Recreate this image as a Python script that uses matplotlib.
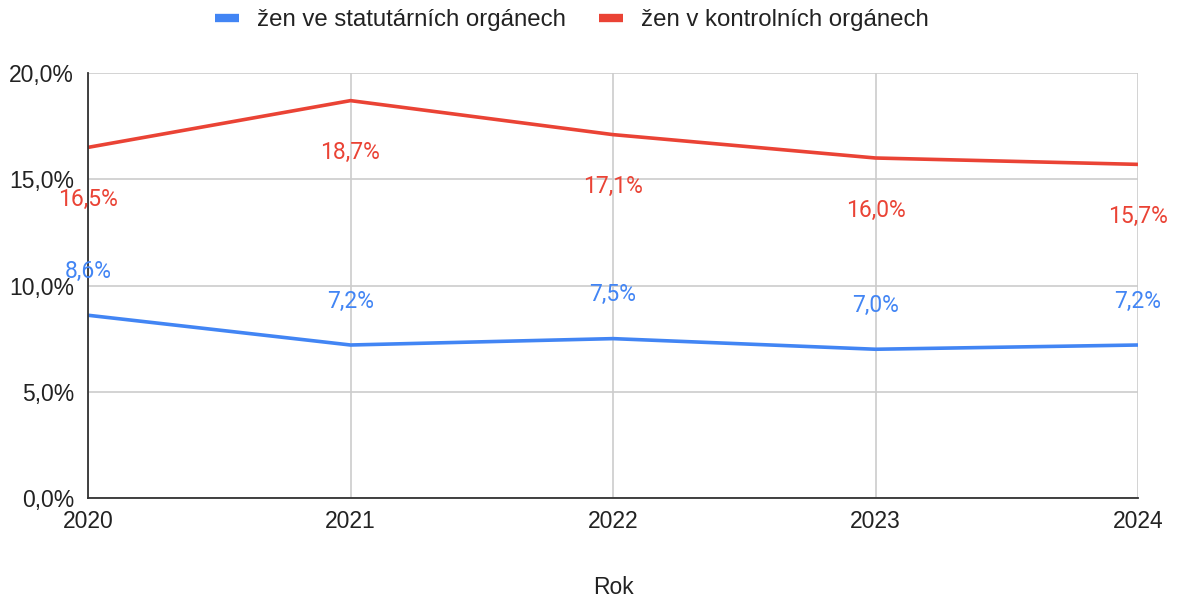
import matplotlib.pyplot as plt
from matplotlib.ticker import FuncFormatter

plt.rcParams['font.family'] = ['Liberation Sans', 'DejaVu Sans']

roky = [2020, 2021, 2022, 2023, 2024]
statutarni = [8.6, 7.2, 7.5, 7.0, 7.2]
kontrolni = [16.5, 18.7, 17.1, 16.0, 15.7]

modra = '#4285F4'
cervena = '#EA4335'

def fmt(v):
    return ('%.1f' % v).replace('.', ',') + '%'

fig = plt.figure(figsize=(11.79, 6), dpi=100)
ax = fig.add_axes([88 / 1179, 1 - 498 / 600, (1138 - 88) / 1179, (498 - 73) / 600])

ax.plot(roky, statutarni, color=modra, linewidth=2.6, label='žen ve statutárních orgánech', solid_capstyle='butt')
ax.plot(roky, kontrolni, color=cervena, linewidth=2.6, label='žen v kontrolních orgánech', solid_capstyle='butt')

# popisky hodnot
for x, v in zip(roky, statutarni):
    ax.annotate(fmt(v), (x, v), xytext=(0, 44), textcoords='offset pixels',
                ha='center', va='center', color=modra, fontsize=16.5, family='Roboto')
for x, v in zip(roky, kontrolni):
    ax.annotate(fmt(v), (x, v), xytext=(0, -52), textcoords='offset pixels',
                ha='center', va='center', color=cervena, fontsize=16.5, family='Roboto')

ax.set_xlim(2020, 2024)
ax.set_ylim(0, 20)
ax.set_xticks(roky)
ax.set_yticks([0, 5, 10, 15, 20])
ax.yaxis.set_major_formatter(FuncFormatter(lambda v, p: fmt(v)))
ax.grid(True, color='#cccccc', linewidth=1.2)
ax.set_axisbelow(True)
ax.tick_params(length=0, labelsize=16.5, labelcolor='#222222')
ax.tick_params(axis='x', pad=9)
ax.tick_params(axis='y', pad=10)
for s in ['top', 'right']:
    ax.spines[s].set_visible(False)
ax.spines['left'].set_color('#333333')
ax.spines['bottom'].set_color('#333333')
ax.spines['left'].set_linewidth(1.3)
ax.spines['bottom'].set_linewidth(1.3)

fig.text(613 / 1179, 1 - 588 / 600, 'Rok', ha='center', va='center', fontsize=16.5, color='#222222')

leg = fig.legend(loc='center', bbox_to_anchor=(572 / 1179, 1 - 20 / 600), ncol=2,
                 frameon=False, fontsize=17.3, handlelength=1.0, handletextpad=0.75,
                 columnspacing=1.37, labelcolor='#222222')
for line in leg.get_lines():
    line.set_linewidth(6)

fig.savefig('out.png', dpi=100)
